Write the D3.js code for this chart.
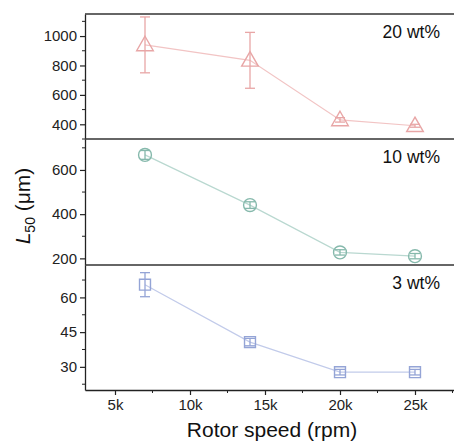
<!DOCTYPE html>
<html>
<head>
<meta charset="utf-8">
<script src="https://cdn.jsdelivr.net/npm/d3@7"></script>
<style>
  body { margin: 0; background: #fff; }
  svg { font-family: "Liberation Sans", Arial, sans-serif; }
</style>
</head>
<body>
<svg id="chart" width="454" height="443"></svg>
<script>
// rotor speeds (rpm)
const speeds = [7000, 14000, 20000, 25000];
const xTicks = [5000, 10000, 15000, 20000, 25000];

// L50 means and error bars per concentration
const wt20 = [940, 835, 430, 390];
const wt20err = [190, 190, 15, 10];
const wt10 = [668, 441, 227, 210];
const wt10err = [20, 15, 12, 12];
const wt3 = [65.5, 40.7, 27.7, 27.7];
const wt3err = [5.2, 1.6, 1.2, 1.2];

const panels = [
  {label: "20 wt%", values: wt20, errs: wt20err, domain: [300, 1150], ticks: [400, 600, 800, 1000], minor: 100,
   color: "#e8a6a6", line: "#f2c4c4", shape: "triangle", top: 14, bottom: 139},
  {label: "10 wt%", values: wt10, errs: wt10err, domain: [170, 740], ticks: [200, 400, 600], minor: 100,
   color: "#86b9ac", line: "#b9d8d0", shape: "circle", top: 139, bottom: 265},
  {label: "3 wt%", values: wt3, errs: wt3err, domain: [20, 74], ticks: [30, 45, 60], minor: 7.5,
   color: "#94a4d6", line: "#c2cbea", shape: "square", top: 265, bottom: 390}
];

const svg = d3.select("#chart");
const left = 85, right = 470;

const x = d3.scaleLinear().domain([3000, 28667]).range([left, right]);

panels.forEach(p => {
  const y = d3.scaleLinear().domain(p.domain).range([p.bottom, p.top]);
  const g = svg.append("g");

  // minor ticks
  const minors = d3.range(Math.ceil(p.domain[0] / p.minor) * p.minor, p.domain[1], p.minor)
    .filter(v => !p.ticks.includes(v));
  g.selectAll(".minor").data(minors).enter().append("line")
    .attr("x1", left - 3).attr("x2", left)
    .attr("y1", d => y(d)).attr("y2", d => y(d))
    .attr("stroke", "#222").attr("stroke-width", 1);

  const axis = d3.axisLeft(y).tickValues(p.ticks).tickFormat(d3.format("d"))
    .tickSize(5).tickPadding(3).tickSizeOuter(0);
  const ag = g.append("g").attr("transform", `translate(${left},0)`).call(axis);
  ag.select(".domain").attr("stroke", "#222").attr("stroke-width", 1.3);
  ag.selectAll(".tick line").attr("stroke", "#222").attr("stroke-width", 1.2);
  ag.selectAll("text").attr("font-size", 15).attr("fill", "#222")
    .attr("font-family", "Liberation Sans, Arial, sans-serif");

  // top border of panel
  g.append("line").attr("x1", left).attr("x2", 454)
    .attr("y1", p.top).attr("y2", p.top)
    .attr("stroke", "#333").attr("stroke-width", 1.6);

  // connecting line
  const pts = speeds.map((s, i) => [x(s), y(p.values[i])]);
  g.append("path").attr("d", d3.line()(pts))
    .attr("fill", "none").attr("stroke", p.line).attr("stroke-width", 1.2);

  // error bars
  const eb = g.selectAll(".eb").data(speeds).enter().append("g");
  eb.append("line")
    .attr("x1", d => x(d)).attr("x2", d => x(d))
    .attr("y1", (d, i) => y(p.values[i] - p.errs[i]))
    .attr("y2", (d, i) => y(p.values[i] + p.errs[i]))
    .attr("stroke", p.color).attr("stroke-width", 1.3);
  [-1, 1].forEach(sgn => {
    eb.append("line")
      .attr("x1", d => x(d) - 5).attr("x2", d => x(d) + 5)
      .attr("y1", (d, i) => y(p.values[i] + sgn * p.errs[i]))
      .attr("y2", (d, i) => y(p.values[i] + sgn * p.errs[i]))
      .attr("stroke", p.color).attr("stroke-width", 1.3);
  });

  // markers
  const shapeType = {triangle: d3.symbolTriangle, circle: d3.symbolCircle, square: d3.symbolSquare}[p.shape];
  const size = {triangle: 120, circle: 130, square: 120}[p.shape];
  g.selectAll(".mk").data(speeds).enter().append("path")
    .attr("d", d3.symbol().type(shapeType).size(size))
    .attr("transform", (d, i) => `translate(${x(d)},${y(p.values[i]) + (p.shape === "triangle" ? 1 : 0)})`)
    .attr("fill", "none").attr("stroke", p.color).attr("stroke-width", 1.4);

  // panel label
  g.append("text").attr("x", 440).attr("y", p.top + 24)
    .attr("text-anchor", "end").attr("font-size", 17.5).attr("fill", "#111")
    .text(p.label);
});

// x axis
const xa = d3.axisBottom(x).tickValues(xTicks).tickFormat(d => d / 1000 + "k")
  .tickSize(5).tickPadding(4).tickSizeOuter(0);
const xg = svg.append("g").attr("transform", "translate(0,390)").call(xa);
xg.select(".domain").attr("stroke", "#222").attr("stroke-width", 1.6);
xg.selectAll(".tick line").attr("stroke", "#222").attr("stroke-width", 1.2);
xg.selectAll("text").attr("font-size", 15).attr("fill", "#222")
  .attr("font-family", "Liberation Sans, Arial, sans-serif");
svg.append("g").selectAll("line").data([7500, 12500, 17500, 22500, 27500]).enter().append("line")
  .attr("x1", d => x(d)).attr("x2", d => x(d)).attr("y1", 390).attr("y2", 393)
  .attr("stroke", "#222").attr("stroke-width", 1);

// axis titles
svg.append("text").attr("x", 272).attr("y", 437).attr("text-anchor", "middle")
  .attr("font-size", 21).attr("fill", "#111").text("Rotor speed (rpm)");

const yt = svg.append("text").attr("transform", "translate(30,206) rotate(-90)")
  .attr("text-anchor", "middle").attr("font-size", 21).attr("fill", "#111");
yt.append("tspan").attr("font-style", "italic").text("L");
yt.append("tspan").attr("font-size", 14).attr("dy", 5).text("50");
yt.append("tspan").attr("dy", -5).text(" (μm)");
</script>
</body>
</html>
